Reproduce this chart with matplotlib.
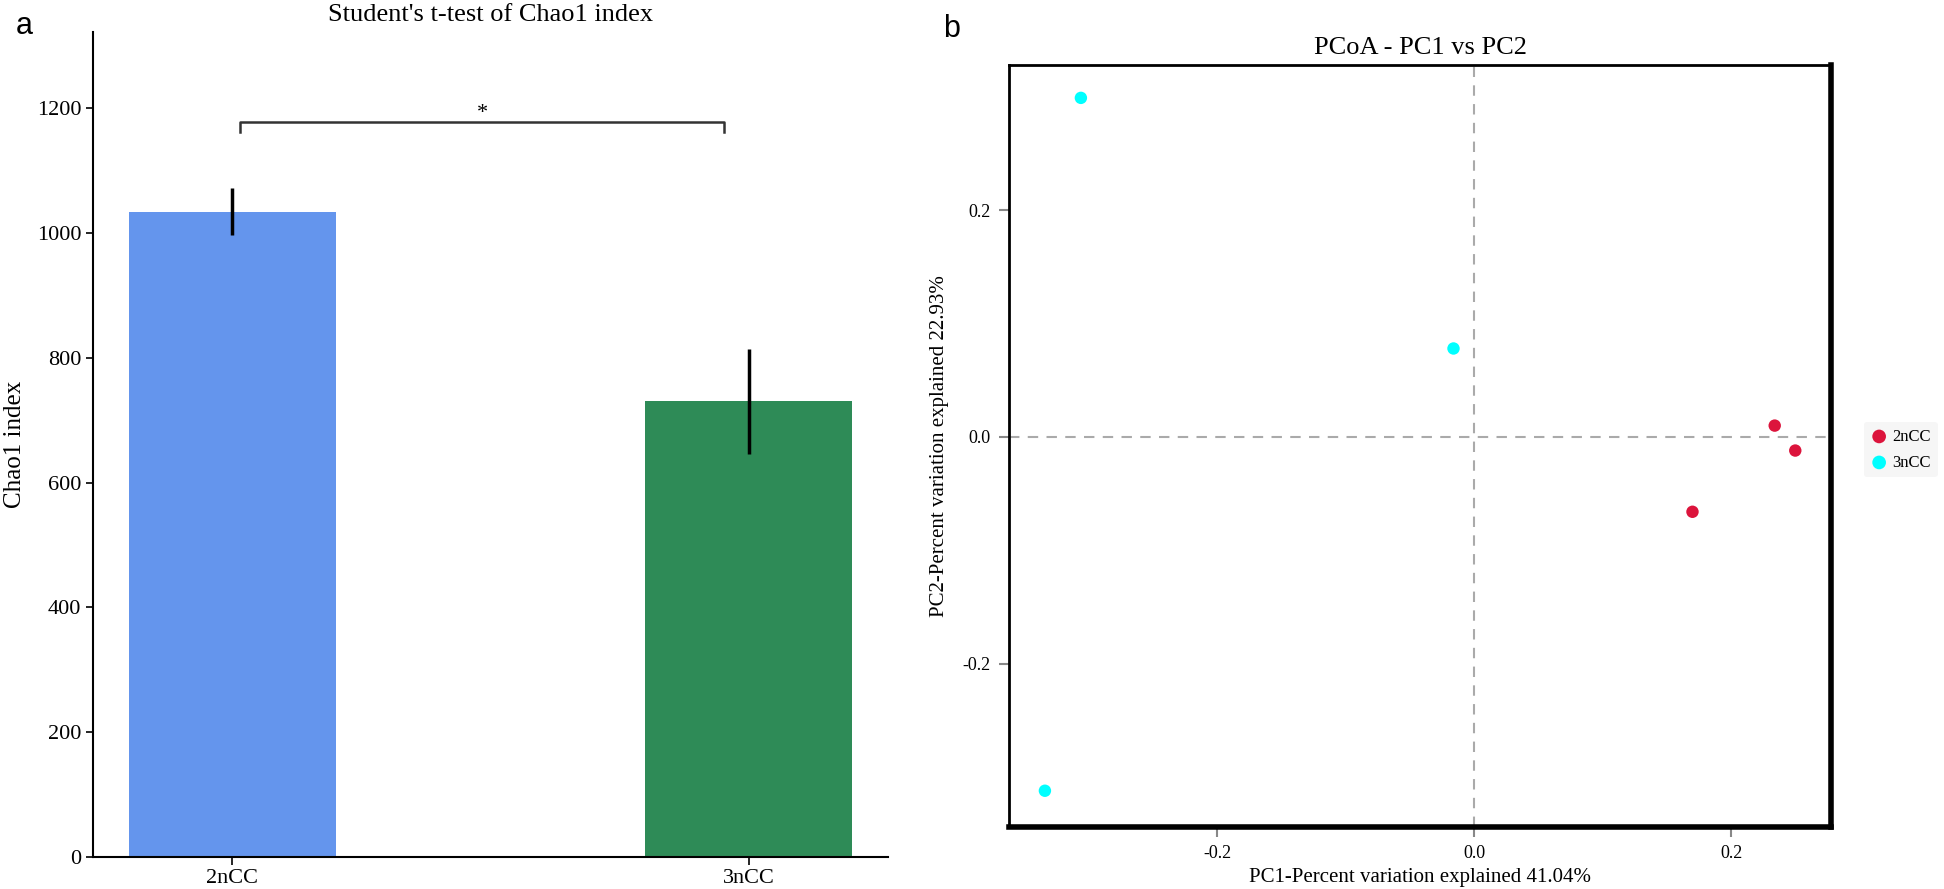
import numpy as np
import matplotlib
matplotlib.use('Agg')
import matplotlib.pyplot as plt

plt.rcParams['font.family'] = ['Liberation Serif', 'DejaVu Serif']

# panel a data
groups = ['2nCC', '3nCC']
chao1_mean = [1034, 730]
chao1_err = [38, 84]
bar_colors = ['#6495ED', '#2E8B57']
y_ticks_a = [0, 200, 400, 600, 800, 1000, 1200]

# panel b data
pc1_2n = [0.234, 0.250, 0.170]
pc2_2n = [0.010, -0.012, -0.066]
pc1_3n = [-0.306, -0.016, -0.334]
pc2_3n = [0.299, 0.078, -0.312]
pc_ticks = [-0.2, 0.0, 0.2]
pc_tick_labels = ['-0.2', '0.0', '0.2']

fig = plt.figure(figsize=(19.44, 8.89), dpi=100)

# ---- panel a ----
ax1 = fig.add_axes([0.0478, 0.036, 0.409, 0.928])
x = np.arange(len(groups))
ax1.bar(x, chao1_mean, width=0.4, color=bar_colors)
ax1.errorbar(x, chao1_mean, yerr=chao1_err, fmt='none', ecolor='black',
             elinewidth=2.5, capsize=0)
ax1.set_xlim(-0.27, 1.27)
ax1.set_ylim(0, 1322)
ax1.set_xticks(x)
ax1.set_xticklabels(groups, fontsize=16)
ax1.set_yticks(y_ticks_a)
ax1.tick_params(axis='y', labelsize=16, length=5, width=1.2)
ax1.tick_params(axis='x', length=6, width=1.2, pad=3)
for s in ['top', 'right']:
    ax1.spines[s].set_visible(False)
for s in ['left', 'bottom']:
    ax1.spines[s].set_linewidth(1.5)
ax1.set_ylabel('Chao1 index', fontsize=18, labelpad=8)
ax1.set_title("Student's t-test of Chao1 index", fontsize=19, pad=8)

# significance bracket
ax1.plot([0.015, 0.015, 0.952, 0.952], [1162, 1178, 1178, 1162],
         color='#333333', lw=1.8)
ax1.text(0.485, 1176, '*', ha='center', va='bottom', fontsize=16)

fig.text(0.008, 0.962, 'a', fontsize=22, family='Liberation Sans', va='baseline')
fig.text(0.485, 0.958, 'b', fontsize=22, family='Liberation Sans', va='baseline')

# ---- panel b ----
ax2 = fig.add_axes([0.519, 0.0697, 0.423, 0.8572])
ax2.axvline(0, color='#AAAAAA', ls=(0, (5, 4)), lw=1.5, zorder=1)
ax2.axhline(0, color='#AAAAAA', ls=(0, (5, 4)), lw=1.5, zorder=1)
ax2.scatter(pc1_2n, pc2_2n, s=80, color='#DC143C', label='2nCC', zorder=3,
            edgecolors='none')
ax2.scatter(pc1_3n, pc2_3n, s=80, color='#00FFFF', label='3nCC', zorder=3,
            edgecolors='none')
ax2.set_xlim(-0.362, 0.278)
ax2.set_ylim(-0.344, 0.328)
ax2.set_xticks(pc_ticks)
ax2.set_xticklabels(pc_tick_labels)
ax2.set_yticks(pc_ticks)
ax2.set_yticklabels(pc_tick_labels)
ax2.tick_params(labelsize=13, length=7, width=1.5, color='#888888', pad=6)
ax2.spines['top'].set_linewidth(2)
ax2.spines['left'].set_linewidth(2)
ax2.spines['bottom'].set_linewidth(4)
ax2.spines['right'].set_linewidth(4)
ax2.set_xlabel('PC1-Percent variation explained 41.04%', fontsize=15, labelpad=4)
ax2.set_ylabel('PC2-Percent variation explained 22.93%', fontsize=15, labelpad=10)
ax2.set_title('PCoA - PC1 vs PC2', fontsize=19, pad=8)

leg = ax2.legend(loc='center left', bbox_to_anchor=(1.04, 0.495), fontsize=12,
                 frameon=True, handletextpad=0.3, borderpad=0.4,
                 labelspacing=0.6, handlelength=1.0, markerscale=1.1,
                 borderaxespad=0)
leg.get_frame().set_facecolor('#F4F4F4')
leg.get_frame().set_edgecolor('none')

fig.savefig('out.png', dpi=100)
